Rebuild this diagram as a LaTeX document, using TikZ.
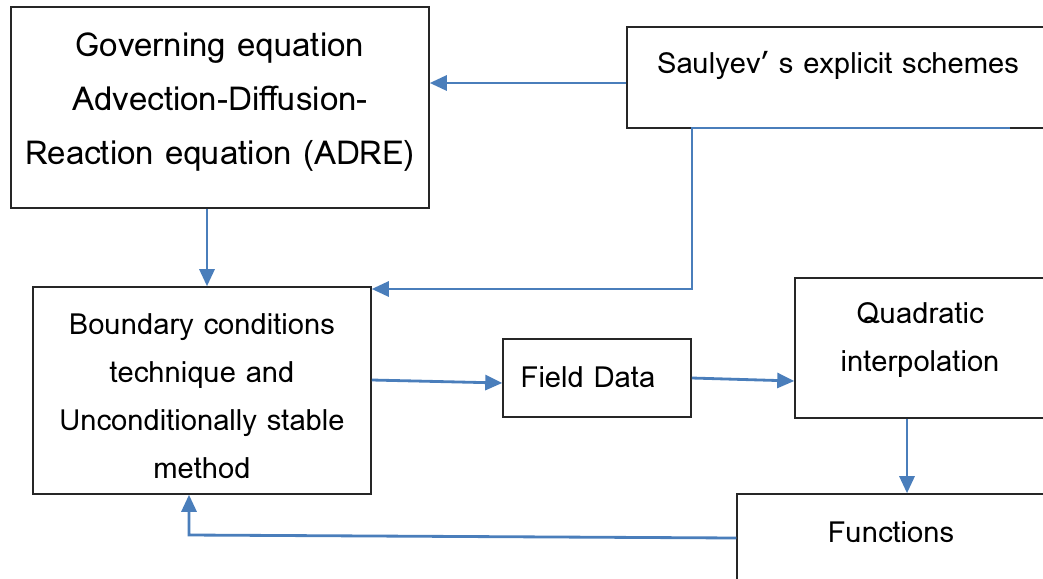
\documentclass[tikz,border=0pt]{standalone}
\usepackage{fontspec}
\setmainfont{Loma}
\usepackage{xcolor}
\usepackage{tikz}
\usetikzlibrary{arrows.meta}

\definecolor{flowblue}{HTML}{4A7EBB}

\begin{document}
\begin{tikzpicture}[
    x=0.02cm,
    y=-0.02cm,
    box/.style={
        draw=black!85,
        line width=0.9pt,
        rectangle,
        inner sep=0pt
    },
    txt/.style={
        align=center,
        inner sep=0pt,
        font=\fontsize{16.6}{27.3}\selectfont
    },
    flow/.style={
        draw=flowblue,
        line width=1.6pt,
        -{Triangle[length=0.34cm,width=0.3cm]}
    }
]

\useasboundingbox (0,0) rectangle (1043,578);


\node[box, minimum width=8.36cm, minimum height=4.02cm] (gov) at (220,107.5) {};
\node[box, minimum width=8.44cm, minimum height=2.02cm] (saul) at (838,77.5) {};
\node[box, minimum width=6.76cm, minimum height=4.14cm] (bound) at (202,390.5) {};
\node[box, minimum width=3.76cm, minimum height=1.56cm] (field) at (597,378) {};
\node[box, minimum width=5.0cm, minimum height=2.8cm] (quad) at (920,348) {};
\node[box, minimum width=6.16cm, minimum height=2.2cm] (func) at (891,549) {};


\node[txt, font=\fontsize{18.8}{30.8}\selectfont] (gov-t) at (220,102)
    {Governing equation\\Advection-Diffusion-\\Reaction equation (ADRE)};
\node[txt] (saul-t) at (838,65) {Saulyev’ s explicit schemes};
\node[txt] (bound-t) at (202,396)
    {Boundary conditions\\technique and\\Unconditionally stable\\method};
\node[txt] (field-t) at (588,377) {Field Data};
\node[txt] (quad-t) at (920,340) {Quadratic\\interpolation};
\node[txt] (func-t) at (891,532) {Functions};


% corners of the routed connectors
\coordinate (s1) at (1010,128);
\coordinate (s2) at (692,128);
\coordinate (s3) at (692,289);
\coordinate (f1) at (189,535);


\draw[flow] (saul.west |- 0,83) -- (gov.east |- 0,83);

\draw[flow] (s1) -- (s2) -- (s3) -- (bound.east |- s3);

\draw[flow] (gov.south -| 207,0) -- (bound.north -| 207,0);

\draw[flow] (bound.east |- 0,380) -- (field.west |- 0,383);

\draw[flow] (field.east |- 0,378) -- (quad.west |- 0,381);

\draw[flow] (quad.south -| 907,0) -- (func.north -| 907,0);

\draw[flow] (func.west |- 0,538) -- (f1) -- (bound.south -| f1);

\end{tikzpicture}
\end{document}
